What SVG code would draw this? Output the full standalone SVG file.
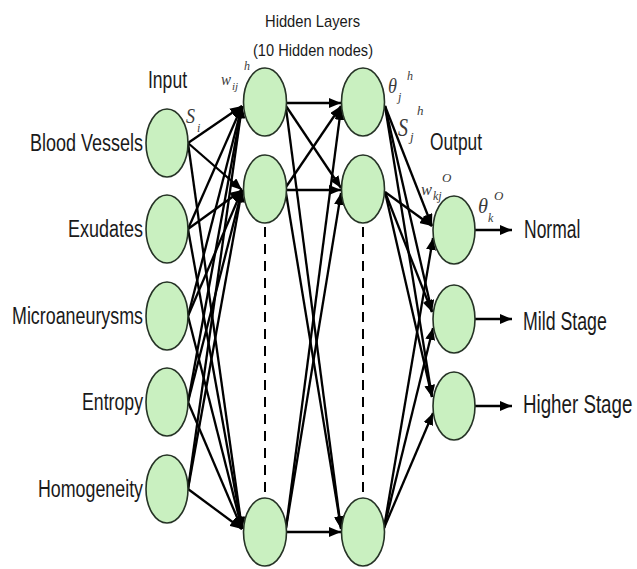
<svg xmlns="http://www.w3.org/2000/svg" width="637" height="569" viewBox="0 0 637 569">
<style>
.node{fill:#c9f0c0;stroke:#263326;stroke-width:1.6}
.lbl{font-family:"Liberation Sans",Arial,sans-serif;fill:#1a1a1a}
.math{font-family:"Liberation Serif","Times New Roman",serif;font-style:italic;fill:#3a3a3a}
.c line{stroke:#000;stroke-width:2.3;marker-end:url(#ah)}
.dash{stroke:#000;stroke-width:2;stroke-dasharray:10 7;fill:none}
</style>
<defs>
<marker id="ah" markerUnits="userSpaceOnUse" markerWidth="12" markerHeight="10" refX="12" refY="5" orient="auto">
<path d="M0,0 L12,5 L0,10 z" fill="#000"/>
</marker>
</defs>
<rect width="637" height="569" fill="#fff"/>

<g id="titles">
<text class="lbl" x="265" y="27" font-size="17" textLength="95" lengthAdjust="spacingAndGlyphs">Hidden Layers</text>
<text class="lbl" x="253" y="56" font-size="17" textLength="120" lengthAdjust="spacingAndGlyphs">(10 Hidden nodes)</text>
<text class="lbl" x="148" y="88" font-size="23" textLength="39" lengthAdjust="spacingAndGlyphs">Input</text>
<text class="lbl" x="430" y="150" font-size="23" textLength="52" lengthAdjust="spacingAndGlyphs">Output</text>
</g>

<g id="connectors" class="c">
<line x1="188" y1="143" x2="242" y2="106"/>
<line x1="188" y1="143" x2="242" y2="190"/>
<line x1="188" y1="143" x2="242" y2="529"/>
<line x1="188" y1="229" x2="242" y2="106"/>
<line x1="188" y1="229" x2="242" y2="190"/>
<line x1="188" y1="229" x2="242" y2="529"/>
<line x1="188" y1="316" x2="242" y2="106"/>
<line x1="188" y1="316" x2="242" y2="190"/>
<line x1="188" y1="316" x2="242" y2="529"/>
<line x1="188" y1="402" x2="242" y2="106"/>
<line x1="188" y1="402" x2="242" y2="190"/>
<line x1="188" y1="402" x2="242" y2="529"/>
<line x1="188" y1="489" x2="242" y2="106"/>
<line x1="188" y1="489" x2="242" y2="190"/>
<line x1="188" y1="489" x2="242" y2="529"/>

<line x1="286" y1="103" x2="341" y2="103"/>
<line x1="286" y1="106" x2="341" y2="188"/>
<line x1="286" y1="108" x2="341" y2="529"/>
<line x1="286" y1="187" x2="341" y2="106"/>
<line x1="287" y1="190" x2="341" y2="190"/>
<line x1="286" y1="193" x2="341" y2="528"/>
<line x1="286" y1="528" x2="341" y2="108"/>
<line x1="286" y1="528" x2="341" y2="193"/>
<line x1="287" y1="532" x2="341" y2="532"/>

<line x1="385" y1="106" x2="432" y2="226"/>
<line x1="385" y1="106" x2="432" y2="312"/>
<line x1="385" y1="106" x2="432" y2="397"/>
<line x1="385" y1="192" x2="432" y2="226"/>
<line x1="385" y1="192" x2="432" y2="312"/>
<line x1="385" y1="192" x2="432" y2="397"/>
<line x1="384" y1="528" x2="433" y2="238"/>
<line x1="384" y1="528" x2="433" y2="328"/>
<line x1="384" y1="528" x2="433" y2="413"/>

<line x1="475" y1="230" x2="512" y2="230"/>
<line x1="475" y1="319" x2="512" y2="319"/>
<line x1="475" y1="406" x2="512" y2="406"/>
</g>

<g id="dashes">
<line class="dash" x1="265" y1="227" x2="265" y2="492"/>
<line class="dash" x1="363" y1="227" x2="363" y2="492"/>
</g>

<g id="in-blood-vessels"><ellipse class="node" cx="167" cy="143" rx="21" ry="34"/>
<text class="lbl" x="30" y="150.5" font-size="23" textLength="113" lengthAdjust="spacingAndGlyphs">Blood Vessels</text></g>
<g id="in-exudates"><ellipse class="node" cx="167" cy="229" rx="21" ry="34"/>
<text class="lbl" x="68" y="236.5" font-size="23" textLength="75" lengthAdjust="spacingAndGlyphs">Exudates</text></g>
<g id="in-microaneurysms"><ellipse class="node" cx="167" cy="316" rx="21" ry="34"/>
<text class="lbl" x="12" y="323.5" font-size="23" textLength="131" lengthAdjust="spacingAndGlyphs">Microaneurysms</text></g>
<g id="in-entropy"><ellipse class="node" cx="167" cy="402" rx="21" ry="34"/>
<text class="lbl" x="82" y="409.5" font-size="23" textLength="61" lengthAdjust="spacingAndGlyphs">Entropy</text></g>
<g id="in-homogeneity"><ellipse class="node" cx="167" cy="489" rx="21" ry="34"/>
<text class="lbl" x="38" y="496.5" font-size="23" textLength="105" lengthAdjust="spacingAndGlyphs">Homogeneity</text></g>

<g id="h1-1"><ellipse class="node" cx="265" cy="102" rx="21.5" ry="34"/></g>
<g id="h1-2"><ellipse class="node" cx="265" cy="189" rx="21.5" ry="34"/></g>
<g id="h1-10"><ellipse class="node" cx="265" cy="532" rx="21.5" ry="34"/></g>
<g id="h2-1"><ellipse class="node" cx="363" cy="102" rx="21.5" ry="34"/></g>
<g id="h2-2"><ellipse class="node" cx="363" cy="189" rx="21.5" ry="34"/></g>
<g id="h2-10"><ellipse class="node" cx="363" cy="532" rx="21.5" ry="34"/></g>

<g id="out-normal"><ellipse class="node" cx="454" cy="230" rx="21" ry="34"/>
<text class="lbl" transform="translate(524,238) scale(0.70,1)" x="0" y="0" font-size="25">Normal</text></g>
<g id="out-mild"><ellipse class="node" cx="454" cy="319" rx="21" ry="34"/>
<text class="lbl" transform="translate(523,330) scale(0.71,1)" x="0" y="0" font-size="25">Mild Stage</text></g>
<g id="out-higher"><ellipse class="node" cx="454" cy="406" rx="21" ry="34"/>
<text class="lbl" transform="translate(523,413) scale(0.75,1)" x="0" y="0" font-size="25">Higher Stage</text></g>

<g id="math-labels">
<text class="math" x="221" y="85" font-size="17" textLength="10" lengthAdjust="spacingAndGlyphs">w</text>
<text class="math" x="232" y="90" font-size="11">ij</text>
<text class="math" x="244" y="70" font-size="12">h</text>
<text class="math" x="186" y="123" font-size="22" textLength="9" lengthAdjust="spacingAndGlyphs">S</text>
<text class="math" x="197" y="132" font-size="12">i</text>
<text class="math" x="388" y="93" font-size="21" textLength="9" lengthAdjust="spacingAndGlyphs">θ</text>
<text class="math" x="398" y="101" font-size="12">j</text>
<text class="math" x="407" y="80" font-size="12">h</text>
<text class="math" x="398" y="136" font-size="25" textLength="10" lengthAdjust="spacingAndGlyphs">S</text>
<text class="math" x="410" y="141" font-size="13">j</text>
<text class="math" x="417" y="115" font-size="13">h</text>
<text class="math" x="421" y="195" font-size="17" textLength="11" lengthAdjust="spacingAndGlyphs">w</text>
<text class="math" x="433" y="200" font-size="12">kj</text>
<text class="math" x="442" y="182" font-size="13">O</text>
<text class="math" x="478" y="213" font-size="21" textLength="10" lengthAdjust="spacingAndGlyphs">θ</text>
<text class="math" x="488" y="222" font-size="12">k</text>
<text class="math" x="494" y="200" font-size="13">O</text>
</g>
</svg>
